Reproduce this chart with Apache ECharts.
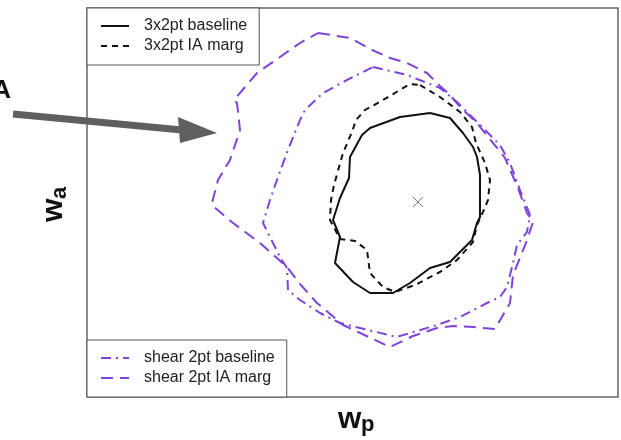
<!DOCTYPE html>
<html>
<head>
<meta charset="utf-8">
<script src="https://cdn.jsdelivr.net/npm/echarts@6/dist/echarts.min.js"></script>
<style>
  html, body { margin: 0; padding: 0; background: #fff; }
  #chart { width: 621px; height: 440px; }
</style>
</head>
<body>
<div id="chart"></div>
<script>
// contour points [wp, wa] in plot units (frame spans 0..531 x 0..389)
const baseline3x2 = [
  [343, 284], [363, 279], [376, 264], [386, 250], [390, 240], [393, 222], [393, 197],
  [393, 180], [390, 174], [385, 157], [363, 135], [343, 129], [323, 114], [306, 104],
  [283, 104], [266, 115], [248, 134], [253, 160], [246, 177], [253, 199], [262, 219],
  [263, 240], [275, 262], [283, 269], [313, 280], [343, 284],
];
const iaMarg3x2 = [
  [333, 312], [353, 300], [373, 285], [385, 270], [389, 254], [398, 234], [403, 217],
  [401, 197], [396, 185], [390, 172], [386, 155], [370, 137], [353, 125], [328, 112],
  [308, 105], [296, 110], [283, 124], [280, 147], [268, 156], [253, 158], [243, 177],
  [244, 197], [247, 212], [256, 244], [265, 265], [269, 277], [278, 287], [296, 297],
  [323, 313], [333, 312],
];
const baselineShear = [
  [286, 330], [320, 322], [353, 309], [370, 295], [390, 275], [413, 252], [423, 234],
  [433, 207], [443, 182], [440, 165], [430, 152], [426, 134], [420, 110], [413, 100],
  [400, 94], [373, 80], [350, 72], [323, 64], [310, 60], [273, 69], [253, 74], [233, 84],
  [213, 97], [201, 107], [200, 129], [193, 140], [176, 174], [183, 197], [191, 220],
  [201, 247], [213, 277], [218, 287], [236, 304], [260, 317], [286, 330],
];
const iaMargShear = [
  [231, 364], [263, 359], [283, 348], [303, 339], [320, 334], [340, 324], [353, 311],
  [363, 302], [373, 290], [390, 274], [418, 239], [431, 209], [440, 184], [446, 175],
  [440, 157], [433, 139], [426, 122], [423, 94], [408, 68], [386, 70], [366, 71],
  [350, 69], [326, 61], [303, 50], [256, 72], [230, 94], [213, 113], [200, 130],
  [173, 154], [146, 174], [126, 191], [125, 194], [131, 217], [143, 237], [153, 267],
  [150, 294], [147, 297], [170, 324], [193, 340], [213, 354], [231, 364],
];
const fiducial = [[331, 195]];

const legendTop = ['3x2pt baseline', '3x2pt IA marg'];
const legendBottom = ['shear 2pt baseline', 'shear 2pt IA marg'];

const FONT = 'Liberation Sans, Arial, sans-serif';
const PURPLE = '#7f43dc';

const chart = echarts.init(document.getElementById('chart'), null, { renderer: 'canvas' });

function legendBox(names, pos) {
  return Object.assign({
    data: names,
    left: 87,
    orient: 'vertical',
    itemWidth: 28,
    itemHeight: 14,
    itemGap: 4,
    padding: [10, 12, 11, 13],
    borderColor: '#555',
    borderWidth: 1,
    borderRadius: 0,
    backgroundColor: '#fff',
    selectedMode: false,
    // hide the symbol in the legend icon, keep only the line
    itemStyle: { opacity: 0 },
    textStyle: {
      fontFamily: FONT,
      fontSize: 16,
      lineHeight: 16,
      color: '#222',
      padding: [0, 0, 0, 10],
    },
  }, pos);
}

const option = {
  animation: false,
  grid: {
    left: 87,
    right: 3,
    top: 8,
    bottom: 43,
    show: true,
    borderColor: '#666',
    borderWidth: 1.5,
  },
  xAxis: {
    type: 'value',
    min: 0,
    max: 531,
    axisLine: { show: false },
    axisTick: { show: false },
    axisLabel: { show: false },
    splitLine: { show: false },
  },
  yAxis: {
    type: 'value',
    min: 0,
    max: 389,
    axisLine: { show: false },
    axisTick: { show: false },
    axisLabel: { show: false },
    splitLine: { show: false },
  },
  legend: [
    legendBox(legendTop, { top: 8 }),
    legendBox(legendBottom, { bottom: 43 }),
  ],
  series: [
    {
      name: 'shear 2pt baseline',
      type: 'line',
      data: baselineShear,
      symbol: 'none',
      silent: true,
      color: PURPLE,
      lineStyle: { color: PURPLE, width: 2, type: [10, 5, 2, 5] },
    },
    {
      name: 'shear 2pt IA marg',
      type: 'line',
      data: iaMargShear,
      symbol: 'none',
      silent: true,
      color: PURPLE,
      lineStyle: { color: PURPLE, width: 2, type: [12, 7] },
    },
    {
      name: '3x2pt baseline',
      type: 'line',
      data: baseline3x2,
      symbol: 'none',
      silent: true,
      color: '#111',
      lineStyle: { color: '#111', width: 2, type: 'solid' },
    },
    {
      name: '3x2pt IA marg',
      type: 'line',
      data: iaMarg3x2,
      symbol: 'none',
      silent: true,
      color: '#111',
      lineStyle: { color: '#111', width: 2, type: [6, 5] },
    },
    {
      name: 'fiducial',
      type: 'scatter',
      data: fiducial,
      symbol: 'path://M0,0L10,10M10,0L0,10',
      symbolSize: 10,
      silent: true,
      itemStyle: { color: 'none', borderColor: '#555', borderWidth: 1 },
    },
  ],
  graphic: [
    // "A" annotation, cut at the left edge
    {
      type: 'text',
      x: 11,
      y: 91,
      style: {
        text: 'A',
        font: 'bold 26px ' + FONT,
        fill: '#111',
        textAlign: 'right',
        textVerticalAlign: 'middle',
      },
    },
    // arrow
    {
      type: 'line',
      shape: { x1: 13, y1: 114, x2: 182, y2: 130 },
      style: { stroke: '#5f5f5f', lineWidth: 7 },
    },
    {
      type: 'polygon',
      shape: { points: [[178, 117], [217, 133], [180, 143]] },
      style: { fill: '#5f5f5f' },
    },
    // x axis name w_p
    {
      type: 'text',
      x: 338,
      y: 420,
      style: { text: 'w', font: 'bold 30px ' + FONT, fill: '#111', textAlign: 'left', textVerticalAlign: 'middle' },
    },
    {
      type: 'text',
      x: 361,
      y: 425,
      style: { text: 'p', font: 'bold 22px ' + FONT, fill: '#111', textAlign: 'left', textVerticalAlign: 'middle' },
    },
    // y axis name w_a (rotated)
    {
      type: 'group',
      x: 64,
      y: 222,
      rotation: Math.PI / 2,
      children: [
        {
          type: 'text',
          x: 0,
          y: -10.5,
          style: { text: 'w', font: 'bold 30px ' + FONT, fill: '#111', textAlign: 'left', textVerticalAlign: 'middle' },
        },
        {
          type: 'text',
          x: 23,
          y: -4.5,
          style: { text: 'a', font: 'bold 22px ' + FONT, fill: '#111', textAlign: 'left', textVerticalAlign: 'middle' },
        },
      ],
    },
  ],
};

chart.setOption(option);
</script>
</body>
</html>
